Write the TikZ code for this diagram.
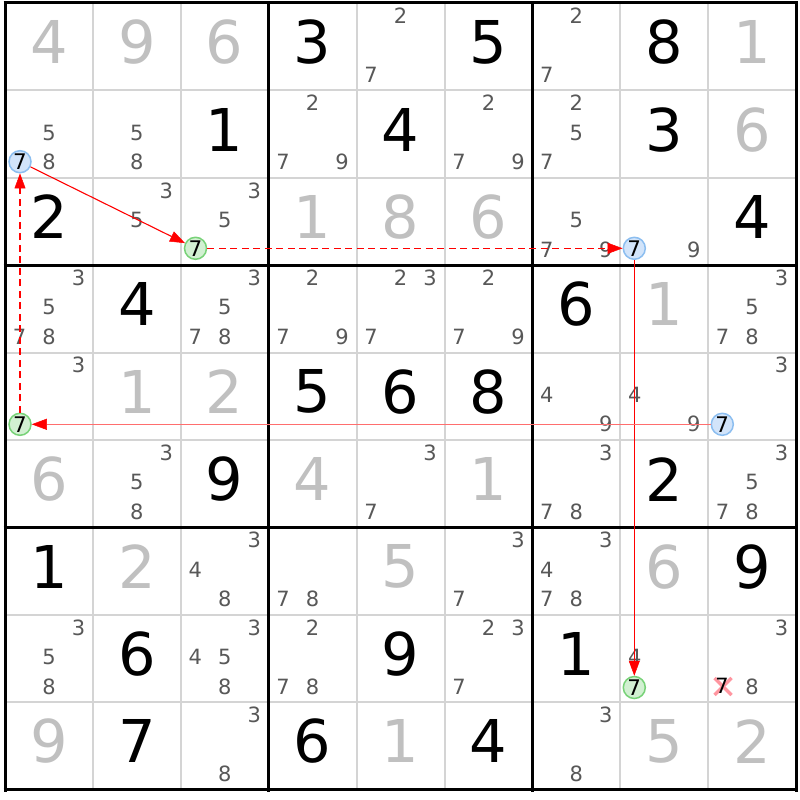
\documentclass[tikz,border=0pt]{standalone}
\usepackage{fontspec}
\setmainfont{DejaVu Sans}
\usetikzlibrary{arrows.meta}
\definecolor{candc}{RGB}{88,88,88}
\definecolor{solvc}{RGB}{192,192,192}
\definecolor{thinc}{RGB}{212,212,212}
\definecolor{bluefill}{RGB}{210,228,250}
\definecolor{bluedraw}{RGB}{140,190,240}
\definecolor{greenfill}{RGB}{210,240,210}
\definecolor{greendraw}{RGB}{120,210,120}
\definecolor{xred}{RGB}{255,150,160}
\definecolor{linkred}{RGB}{255,0,0}
\definecolor{softred}{RGB}{255,110,110}
\begin{document}
\begin{tikzpicture}[x=1pt,y=-1pt,
  big/.style={font=\fontsize{59}{60}\selectfont, inner sep=0pt},
  given/.style={big,text=black},
  solved/.style={big,text=solvc},
  cand/.style={font=\fontsize{21}{23}\selectfont, inner sep=0pt, text=candc},
  ring/.style={circle, line width=1.5pt, minimum size=22pt, inner sep=0pt, font=\fontsize{21.5}{23}\selectfont, text=black},
  bluec/.style={ring, draw=bluedraw, fill=bluefill},
  greenc/.style={ring, draw=greendraw, fill=greenfill},
  link/.style={draw=linkred, line width=1.1pt, -{Triangle[length=15pt,width=11pt,color=linkred,line width=0.5pt]}},
  weak/.style={link, line width=1.3pt, dash pattern=on 7pt off 4.5pt}
]
\useasboundingbox (0,0) rectangle (800,800);
\fill[white] (0,0) rectangle (800,800);
% thin grid lines
\foreach \i in {1,2,4,5,7,8} {
  \pgfmathsetmacro{\gx}{5+87.9*\i}
  \pgfmathsetmacro{\gy}{3+87.4*\i}
  \draw[thinc, line width=2pt] (\gx,3) -- (\gx,790);
  \draw[thinc, line width=2pt] (5,\gy) -- (796,\gy);
}
% thick grid lines
\foreach \i in {0,3,6,9} {
  \pgfmathsetmacro{\gx}{5+87.9*\i}
  \pgfmathsetmacro{\gy}{3+87.4*\i}
  \draw[black, line width=3pt] (\gx,1.5) -- (\gx,791.5);
  \draw[black, line width=3pt] (3.5,\gy) -- (797.5,\gy);
}
% givens
\foreach \r/\c/\d in {1/4/3,1/6/5,1/8/8,2/3/1,2/5/4,2/8/3,3/1/2,3/9/4,4/2/4,4/7/6,5/4/5,5/5/6,5/6/8,6/3/9,6/8/2,7/1/1,7/9/9,8/2/6,8/5/9,8/7/1,9/2/7,9/4/6,9/6/4} {
  \pgfmathsetmacro{\X}{5+87.9*(\c-1)+43.95}
  \pgfmathsetmacro{\Y}{3+87.4*(\r-1)+43.7-4.5}
  \node[given, name=g\r\c] at (\X,\Y) {\d};
}
% solved
\foreach \r/\c/\d in {1/1/4,1/2/9,1/3/6,1/9/1,2/9/6,3/4/1,3/5/8,3/6/6,4/8/1,5/2/1,5/3/2,6/1/6,6/4/4,6/6/1,7/2/2,7/5/5,7/8/6,9/1/9,9/5/1,9/8/5,9/9/2} {
  \pgfmathsetmacro{\X}{5+87.9*(\c-1)+43.95}
  \pgfmathsetmacro{\Y}{3+87.4*(\r-1)+43.7-4.5}
  \node[solved, name=s\r\c] at (\X,\Y) {\d};
}
% candidates
\foreach \r/\c/\d in {1/5/2,1/5/7,1/7/2,1/7/7,
  2/1/5,2/1/8,2/2/5,2/2/8,2/4/2,2/4/7,2/4/9,2/6/2,2/6/7,2/6/9,2/7/2,2/7/5,2/7/7,
  3/2/3,3/2/5,3/3/3,3/3/5,3/7/5,3/7/7,3/7/9,3/8/9,
  4/1/3,4/1/5,4/1/7,4/1/8,4/3/3,4/3/5,4/3/7,4/3/8,4/4/2,4/4/7,4/4/9,4/5/2,4/5/3,4/5/7,4/6/2,4/6/7,4/6/9,4/9/3,4/9/5,4/9/7,4/9/8,
  5/1/3,5/7/4,5/7/9,5/8/4,5/8/9,5/9/3,
  6/2/3,6/2/5,6/2/8,6/5/3,6/5/7,6/7/3,6/7/7,6/7/8,6/9/3,6/9/5,6/9/7,6/9/8,
  7/3/3,7/3/4,7/3/8,7/4/7,7/4/8,7/6/3,7/6/7,7/7/3,7/7/4,7/7/7,7/7/8,
  8/1/3,8/1/5,8/1/8,8/3/3,8/3/4,8/3/5,8/3/8,8/4/2,8/4/7,8/4/8,8/6/2,8/6/3,8/6/7,8/8/4,8/9/3,8/9/8,
  9/3/3,9/3/8,9/7/3,9/7/8} {
  \pgfmathsetmacro{\X}{5+87.9*(\c-1)+43.95+(mod(\d-1,3)-1)*29.5}
  \pgfmathsetmacro{\Y}{3+87.4*(\r-1)+43.7+(floor((\d-1)/3)-1)*29.5-1.5}
  \node[cand, name=k\r\c\d] at (\X,\Y) {\d};
}
% eliminated candidate with cross
\draw[xred, line width=3.5pt] (714.5,678) -- (731.5,695);
\draw[xred, line width=3.5pt] (714.5,695) -- (731.5,678);
\node[cand, text=black, name=k897] at (722.15,686) {7};
% chain nodes
\node[bluec] (a) at (20,161.7) {7};
\node[greenc] (b) at (195.5,248.3) {7};
\node[bluec] (c) at (634.3,248.3) {7};
\node[greenc] (d) at (634.3,687.5) {7};
\node[bluec] (e) at (722.3,424.3) {7};
\node[greenc] (f) at (20,424.3) {7};
% links
\draw[link] (a) -- (b);
\draw[weak] (b) -- (c);
\draw[link] (c) -- (d);
\draw[link, draw=softred, line width=1.6pt] (e) -- (f);
\draw[weak] (f) -- (a);
\end{tikzpicture}
\end{document}
